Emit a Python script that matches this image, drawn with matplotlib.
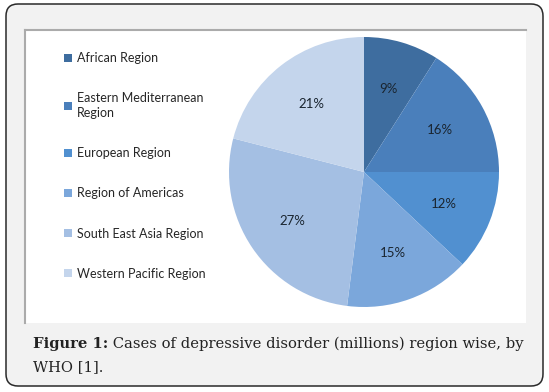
import matplotlib
matplotlib.use("Agg")
import matplotlib.pyplot as plt
from matplotlib.patches import FancyBboxPatch, Rectangle

regions = ["African Region", "Eastern Mediterranean\nRegion", "European Region",
           "Region of Americas", "South East Asia Region", "Western Pacific Region"]
shares = [9, 16, 12, 15, 27, 21]
colors = ["#3e6d9f", "#4a7fbb", "#5190d0", "#7ba7db", "#a4bfe3", "#c4d5ec"]

W, H = 549, 392
fig = plt.figure(figsize=(W / 100, H / 100), dpi=100)
fig.patch.set_facecolor("white")

# background drawing axes in pixel units
bg = fig.add_axes([0, 0, 1, 1])
bg.set_xlim(0, W)
bg.set_ylim(H, 0)
bg.axis("off")

box = FancyBboxPatch((6, 4), 537, 382, boxstyle="round,pad=0,rounding_size=12",
                     facecolor="#f2f2f2", edgecolor="#2a2a2a", linewidth=1.1)
bg.add_patch(box)
bg.add_patch(Rectangle((25, 30), 501, 293, facecolor="white", edgecolor="none"))
bg.plot([25, 526], [30, 30], color="#ababab", lw=1.5)
bg.plot([25, 25], [30, 323], color="#ababab", lw=1.5)

# caption
cap_font = dict(family="DejaVu Serif", fontsize=10.6, color="#222222")
t1 = bg.text(33, 344, "Figure 1:", fontweight="bold", va="center", ha="left", **cap_font)
bg.annotate(" Cases of depressive disorder (millions) region wise, by",
            xy=(1, 0), xycoords=t1, va="bottom", ha="left", **cap_font)
bg.text(33, 367, "WHO [1].", va="center", ha="left", **cap_font)

# pie
ax = fig.add_axes([229 / W, 1 - 307 / H, 270 / W, 270 / H])
wedges, texts, autotexts = ax.pie(
    shares, colors=colors, startangle=90, counterclock=False,
    autopct=lambda p: f"{p:.0f}%", pctdistance=0.64,
    wedgeprops=dict(edgecolor="none"),
    textprops=dict(family="Lato", fontsize=9.5, color="#1a2530"))
ax.set_xlim(-1, 1)
ax.set_ylim(-1, 1)
ax.set_aspect("auto")

leg = fig.legend(wedges, regions, loc="upper left", bbox_to_anchor=(64 / W, 1 - 52 / H),
                 frameon=False, borderpad=0, borderaxespad=0, labelspacing=2.25,
                 handlelength=0.6, handleheight=0.6, handletextpad=0.45,
                 prop=dict(family="Lato", size=9), labelcolor="#262626")
leg.get_texts()[1].set_linespacing(1.3)

fig.savefig("out.png", dpi=100)
